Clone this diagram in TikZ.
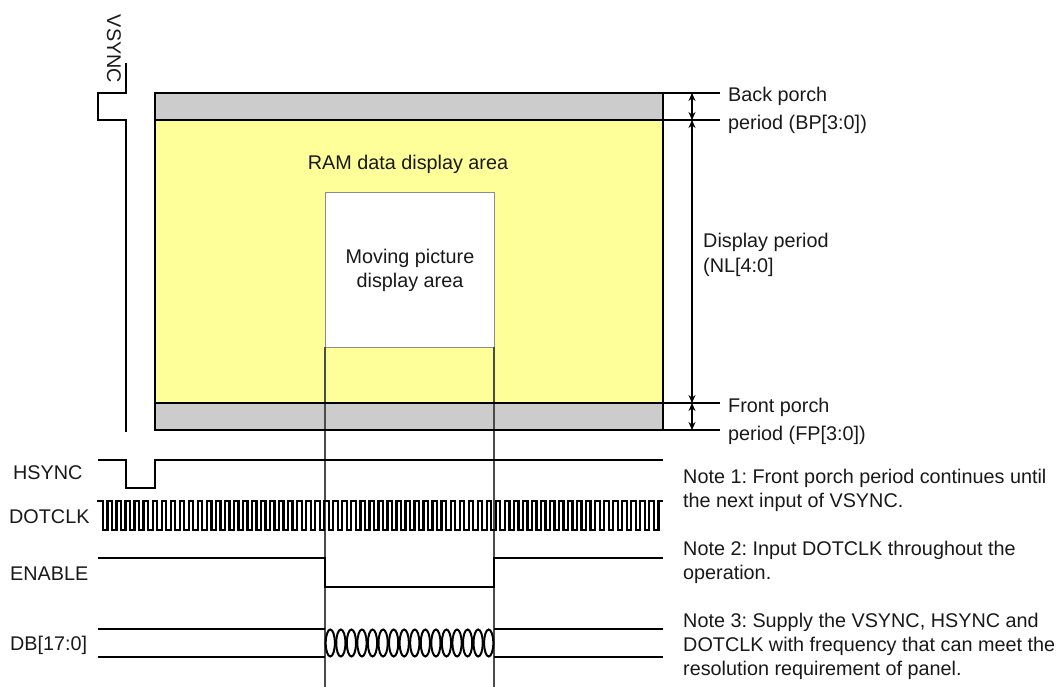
\documentclass[tikz,border=0pt]{standalone}
\usepackage{fontspec}
\setmainfont{Liberation Sans}
\usetikzlibrary{arrows.meta}
\definecolor{ramyellow}{HTML}{FFFF99}
\definecolor{porchgray}{HTML}{CCCCCC}
\frenchspacing
\begin{document}
\begin{tikzpicture}[x=1pt,y=-1pt,
  font=\fontsize{19.8}{24}\selectfont,
  sig/.style={line width=2.3pt, line join=miter},
  lbl/.style={anchor=base west, inner sep=0pt, text=black!90},
  ctr/.style={anchor=base, inner sep=0pt, text=black!90},
  tick/.style={line width=1.5pt},
  dim/.style={line width=1.3pt, {Stealth[length=8pt,width=7pt]}-{Stealth[length=8pt,width=7pt]}}]
\useasboundingbox (0,0) rectangle (1061,687);

% panel areas
\fill[porchgray] (155,93) rectangle (663,120);
\fill[ramyellow] (155,120) rectangle (663,403);
\fill[porchgray] (155,403) rectangle (663,430);
\draw[line width=0.9pt, black!45, fill=white] (325,192) rectangle (494,347);
\draw[line width=2pt, black!70] (325,347) -- (325,687);
\draw[line width=2pt, black!70] (494,347) -- (494,687);
\draw[line width=2.6pt] (155,93) rectangle (663,430);
\draw[line width=2.3pt] (155,120) -- (663,120);
\draw[line width=2.3pt] (155,403) -- (663,403);

% text in panel
\node[ctr] (ram) at (408,170) {RAM data display area};
\node[ctr] (mov1) at (410,264) {Moving picture};
\node[ctr] (mov2) at (410,288) {display area};

% right dimension annotations
\foreach \y in {93,120,403,430} \draw[tick] (663,\y) -- (720,\y);
\coordinate (d0) at (692,93);
\coordinate (d1) at (692,120);
\coordinate (d2) at (692,403);
\coordinate (d3) at (692,430);
\draw[dim] (d0) -- (d1);
\draw[dim] (d1) -- (d2);
\draw[dim] (d2) -- (d3);
\node[lbl] (bp1) at (728,102) {Back porch};
\node[lbl] (bp2) at (728,130) {period (BP[3:0])};
\node[lbl] (dp1) at (703,248) {Display period};
\node[lbl] (dp2) at (703,273) {(NL[4:0]};
\node[lbl] (fp1) at (728,412) {Front porch};
\node[lbl] (fp2) at (728,440) {period (FP[3:0])};

% VSYNC
\node[inner sep=0pt, rotate=-90, text=black!90] (vs) at (114,49) {VSYNC};
\draw[sig] (126,63) -- (126,93) -- (98,93) -- (98,120) -- (126,120) -- (126,432);

% HSYNC
\node[lbl] (hs) at (13,479) {HSYNC};
\draw[sig] (98,460) -- (126,460) -- (126,488) -- (155,488) -- (155,460) -- (663,460);

% DOTCLK
\node[lbl] (dc) at (9,523) {DOTCLK};
\draw[sig] (97,501) -- (103,501)
  foreach \i in {1,...,62} { -- ++(0,29) -- ++(4.515,0) -- ++(0,-29) -- ++(4.515,0) };

% ENABLE
\node[lbl] (en) at (10,580) {ENABLE};
\draw[sig] (98,558) -- (325,558) -- (325,587) -- (494,587) -- (494,558) -- (663,558);

% DB
\node[lbl] (db) at (10,650) {DB[17:0]};
\draw[sig] (98,629) -- (325,629);
\draw[sig] (98,657) -- (325,657);
\draw[sig] (494,629) -- (663,629);
\draw[sig] (494,657) -- (663,657);
\foreach \i in {0,...,15}
  \draw[line width=2pt] ({330.28+\i*10.5625},643) ellipse [x radius=4.6, y radius=13.5];

% notes
\node[lbl] (n1a) at (683,483) {Note 1: Front porch period continues until};
\node[lbl] (n1b) at (683,507) {the next input of VSYNC.};
\node[lbl] (n2a) at (683,555) {Note 2: Input DOTCLK throughout the};
\node[lbl] (n2b) at (683,579) {operation.};
\node[lbl] (n3a) at (683,627) {Note 3: Supply the VSYNC, HSYNC and};
\node[lbl] (n3b) at (683,651) {DOTCLK with frequency that can meet the};
\node[lbl] (n3c) at (683,675) {resolution requirement of panel.};
\end{tikzpicture}
\end{document}
